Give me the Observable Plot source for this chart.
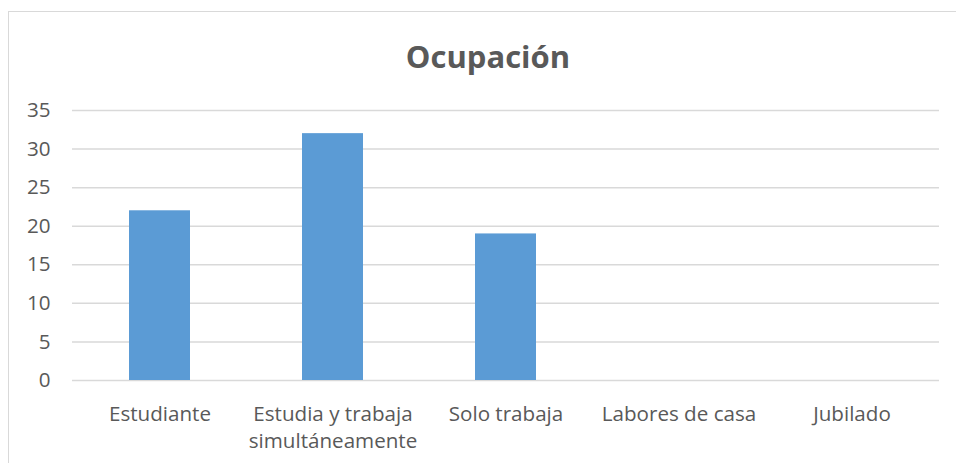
<!DOCTYPE html>
<html>
<head>
<meta charset="utf-8">
<script src="https://cdn.jsdelivr.net/npm/d3@7"></script>
<script src="https://cdn.jsdelivr.net/npm/@observablehq/plot@0.6"></script>
<style>
  html, body { margin: 0; padding: 0; background: #fff; }
  #wrap { position: relative; width: 956px; height: 463px; overflow: hidden; font-family: "Open Sans", sans-serif; }
  #frame { position: absolute; left: 8px; top: 11px; width: 1000px; height: 1000px; border: 1px solid #d9d9d9; box-sizing: border-box; }
  #title { position: absolute; left: 0; width: 976px; top: 41px; text-align: center; font-size: 31px; font-weight: bold; color: #595959; line-height: 1; }
  #chart { position: absolute; left: 0; top: 0; }
</style>
</head>
<body>
<div id="wrap">
  <div id="frame"></div>
  <div id="title">Ocupación</div>
  <div id="chart"></div>
</div>
<script>
const categories = ["Estudiante", "Estudia y trabaja\nsimultáneamente", "Solo trabaja", "Labores de casa", "Jubilado"];
const values = [22, 32, 19, 0, 0];
const yTicks = [0, 5, 10, 15, 20, 25, 30, 35];

const data = categories.map((c, i) => ({category: c, value: values[i]}));

const chart = Plot.plot({
  width: 956,
  height: 463,
  marginLeft: 72,
  marginRight: 17,
  marginTop: 110,
  marginBottom: 83,
  style: {fontFamily: "'Open Sans', sans-serif", fontSize: "20.6px", color: "#595959", background: "transparent"},
  x: {domain: categories, paddingInner: 0.65, paddingOuter: 0.325, label: null},
  y: {domain: [0, 35], label: null},
  marks: [
    Plot.ruleY(yTicks, {stroke: "#d9d9d9", strokeWidth: 1.5}),
    Plot.barY(data, {x: "category", y: "value", fill: "#5B9BD5"}),
    Plot.axisY({ticks: yTicks, tickSize: 0, tickPadding: 22, fill: "#595959", fontSize: 20.6, label: null}),
    Plot.axisX({tickSize: 0, tickPadding: 21, fill: "#595959", fontSize: 20.6, lineHeight: 1.31, label: null})
  ]
});
document.getElementById("chart").appendChild(chart);
</script>
</body>
</html>
